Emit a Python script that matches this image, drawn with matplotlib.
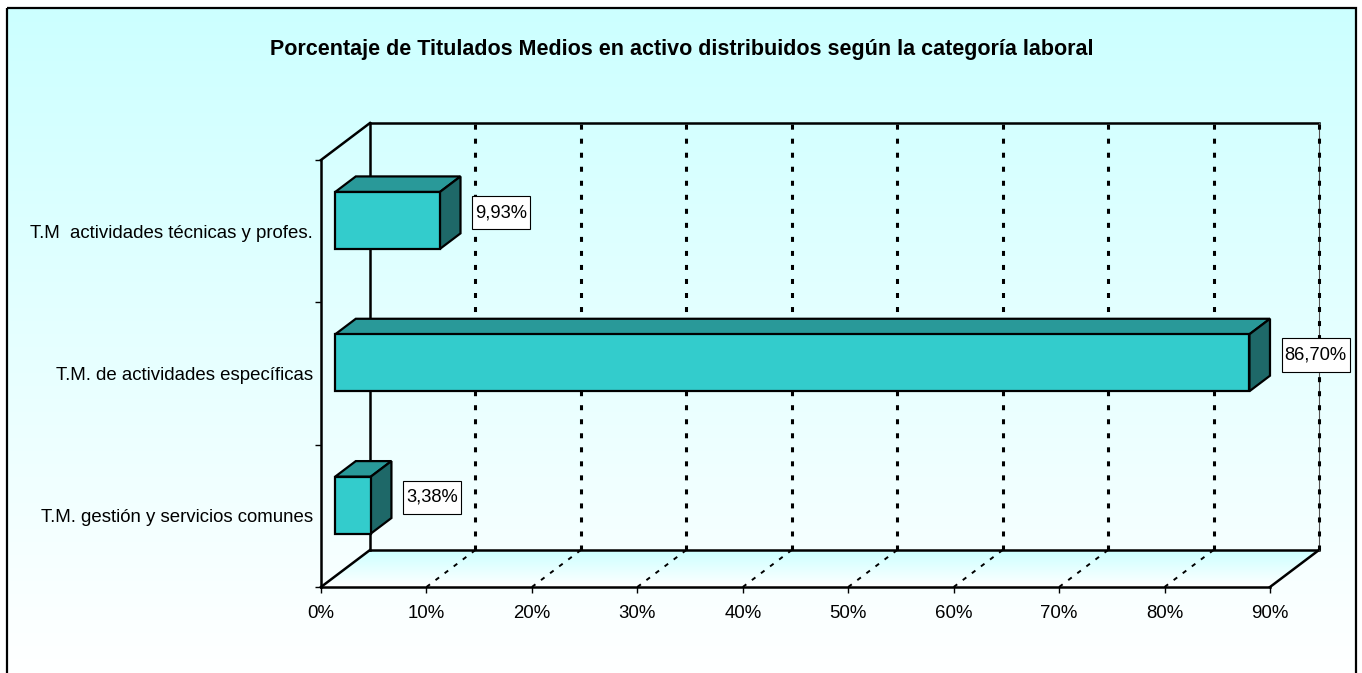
import numpy as np
import matplotlib
matplotlib.use('Agg')
import matplotlib.pyplot as plt
from matplotlib.patches import Polygon, Rectangle
from matplotlib.path import Path
from matplotlib.colors import LinearSegmentedColormap

# datos
categories = ['T.M. gestión y servicios comunes',
              'T.M. de actividades específicas',
              'T.M  actividades técnicas y profes.']
values = [3.38, 86.70, 9.93]
value_labels = ['3,38%', '86,70%', '9,93%']
x_ticks = [0, 10, 20, 30, 40, 50, 60, 70, 80, 90]
x_tick_labels = ['0%', '10%', '20%', '30%', '40%', '50%', '60%', '70%', '80%', '90%']
title = 'Porcentaje de Titulados Medios en activo distribuidos según la categoría laboral'

plt.rcParams['font.family'] = ['Liberation Sans', 'DejaVu Sans']
plt.rcParams['lines.scale_dashes'] = False

W, H = 1362, 673
fig = plt.figure(figsize=(W / 100, H / 100), dpi=100, facecolor='white')

# fondo con degradado y marco
cmap = LinearSegmentedColormap.from_list('bg', ['#CCFFFF', '#FFFFFF'])
grad = np.linspace(0, 1, 256)[:, None]
bg = fig.add_axes([0, 0, 1, 1])
bg.imshow(grad, extent=(7, 1356, H, 8), cmap=cmap, aspect='auto')
bg.add_patch(Rectangle((7, 8), 1349, H + 10, fill=False, ec='black', lw=1.6, clip_on=False))
bg.set_xlim(0, W)
bg.set_ylim(H, 0)
bg.axis('off')

# geometria del grafico 3D (en pixeles)
x0, y0 = 321, 587          # origen frontal
front_w, front_h = 949, 427
depth_x, depth_y = 49, 37
xmax = x_ticks[-1]
ncat = len(categories)
sx = xmax / front_w
sy = ncat / front_h
DX = depth_x * sx
DY = depth_y * sy

def P(v, c, d):
    return (v + d * DX, c + d * DY)

# caja de etiqueta: poco margen lateral, mas margen vertical
def label_box(x, y, w, h, m):
    px, py = 0.16 * m, 0.45 * m
    x1, y1, x2, y2 = x - px, y - py, x + w + px, y + h + py
    return Path([(x1, y1), (x2, y1), (x2, y2), (x1, y2), (x1, y1)],
                [Path.MOVETO, Path.LINETO, Path.LINETO, Path.LINETO, Path.CLOSEPOLY])

ax = fig.add_axes([x0 / W, (H - y0) / H, (front_w + depth_x) / W, (front_h + depth_y) / H])
ax.patch.set_visible(False)

# suelo con degradado
floor = Polygon([P(0, 0, 0), P(xmax, 0, 0), P(xmax, 0, 1), P(0, 0, 1)],
                closed=True, fc='none', ec='none')
ax.add_patch(floor)
im = ax.imshow(grad, extent=(0, xmax + DX, 0, DY), cmap=cmap, aspect='auto', zorder=0)
im.set_clip_path(floor)

lw_wall = 1.8
def seg(a, b, **kw):
    ax.plot([a[0], b[0]], [a[1], b[1]], clip_on=False, **kw)

# paredes
wall = dict(color='black', lw=lw_wall, solid_capstyle='projecting', zorder=2)
seg(P(0, 0, 1), P(xmax, 0, 1), **wall)
seg(P(0, 0, 1), P(0, ncat, 1), **wall)
seg(P(0, ncat, 1), P(xmax, ncat, 1), **wall)
seg(P(0, ncat, 0), P(0, ncat, 1), **wall)
seg(P(0, 0, 0), P(0, 0, 1), **wall)
seg(P(xmax, 0, 0), P(xmax, 0, 1), **wall)
seg(P(xmax, 0, 1), P(xmax, ncat, 1), color='#555555', lw=0.8, zorder=2)

# lineas de division
for v in x_ticks[1:]:
    seg(P(v, 0, 1), P(v, ncat, 1), color='black', lw=2.2,
        dashes=(3.6, 6.5), zorder=2)
for v in x_ticks[1:-1]:
    seg(P(v, 0, 0), P(v, 0, 1), color='black', lw=1.4,
        dashes=(3.2, 5.0), zorder=2)

# barras 3D
half = 0.2
f1, f2 = 0.29, 0.71
for i, (val, lab) in enumerate(zip(values, value_labels)):
    c = i + 0.5
    front = [P(0, c - half, f1), P(val, c - half, f1), P(val, c + half, f1), P(0, c + half, f1)]
    top = [P(0, c + half, f1), P(val, c + half, f1), P(val, c + half, f2), P(0, c + half, f2)]
    side = [P(val, c - half, f1), P(val, c + half, f1), P(val, c + half, f2), P(val, c - half, f2)]
    for pts, col in [(top, '#299999'), (side, '#1E6868'), (front, '#33CCCC')]:
        ax.add_patch(Polygon(pts, closed=True, fc=col, ec='black', lw=1.6,
                             joinstyle='miter', zorder=3))
    ax.annotate(lab, xy=P(val, c, 0.5), xytext=(25, 0), textcoords='offset pixels',
                ha='left', va='center', fontsize=13.2, zorder=4,
                bbox=dict(boxstyle=label_box, fc='white', ec='black', lw=0.8))

# ejes
for s in ['top', 'right']:
    ax.spines[s].set_visible(False)
ax.spines['left'].set_bounds(0, ncat)
ax.spines['bottom'].set_bounds(0, xmax)
ax.spines['left'].set_linewidth(lw_wall)
ax.spines['bottom'].set_linewidth(lw_wall)
ax.set_xticks(x_ticks, x_tick_labels)
ax.set_yticks(range(ncat + 1), [''] * (ncat + 1))
ax.set_yticks([i + 0.5 for i in range(ncat)], categories, minor=True)
ax.tick_params(axis='x', length=4.3, width=1, direction='out', pad=8.5, labelsize=13.4)
ax.tick_params(axis='y', which='major', length=4.3, width=1, direction='out')
ax.tick_params(axis='y', which='minor', length=0, pad=5.8, labelsize=13.4)
ax.set_xlim(0, xmax + DX)
ax.set_ylim(0, ncat + DY)

fig.text(682 / W, 1 - 50 / H, title, ha='center', va='center',
         fontsize=15.5, fontweight='bold')

fig.savefig('out.png', dpi=100)
